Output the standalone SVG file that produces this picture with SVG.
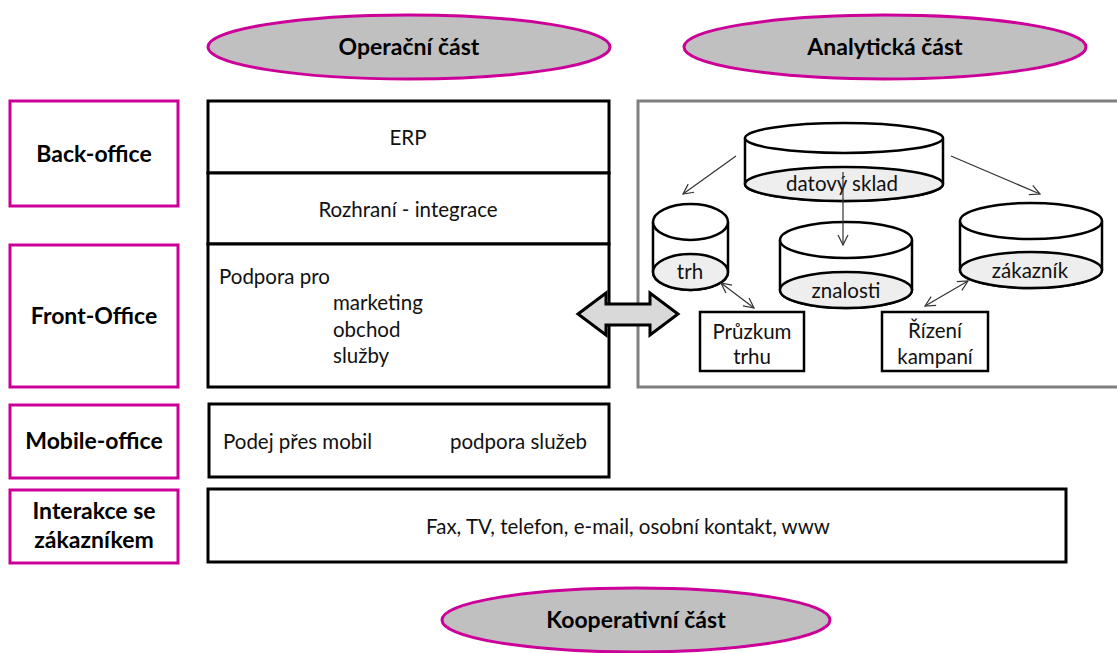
<svg xmlns="http://www.w3.org/2000/svg" width="1117" height="653" viewBox="0 0 1117 653">
  <defs>
    <style>
      .part { fill: #c0c0c0; stroke: #cc0099; stroke-width: 3; }
      .lane { fill: #fff; stroke: #cc0099; stroke-width: 3; }
      .box { fill: #fff; stroke: #000; stroke-width: 3; }
      .cyl { fill: #fff; stroke: #000; stroke-width: 2.5; }
      .cylbase { fill: #eeeeee; stroke: #000; stroke-width: 2.5; }
      .lbl { font-family: Lato, "Liberation Sans", sans-serif; font-size: 23px; font-weight: bold; fill: #000; text-anchor: middle; }
      .txt { font-family: Lato, "Liberation Sans", sans-serif; font-size: 20.5px; fill: #111; }
      .mid { text-anchor: middle; }
      .conn { stroke: #333; stroke-width: 1.2; fill: none; }
    </style>
    <marker id="head" viewBox="0 0 12 12" refX="11" refY="6" markerWidth="12" markerHeight="12" markerUnits="userSpaceOnUse" orient="auto-start-reverse">
      <path d="M1,1 L11,6 L1,11" fill="none" stroke="#333" stroke-width="1.2"/>
    </marker>
  </defs>

  <rect width="1117" height="653" fill="#fff"/>

  <!-- section headers -->
  <g id="operacni">
    <ellipse class="part" cx="409" cy="47" rx="201" ry="32"/>
    <text class="lbl" x="409" y="55">Operační část</text>
  </g>
  <g id="analyticka">
    <ellipse class="part" cx="885" cy="47" rx="201" ry="32"/>
    <text class="lbl" x="885" y="55">Analytická část</text>
  </g>
  <g id="kooperativni">
    <ellipse class="part" cx="636" cy="620" rx="194" ry="32"/>
    <text class="lbl" x="636" y="628">Kooperativní část</text>
  </g>

  <!-- row labels -->
  <g id="back-office">
    <rect class="lane" x="10" y="101" width="168" height="105"/>
    <text class="lbl" x="94" y="162">Back-office</text>
  </g>
  <g id="front-office">
    <rect class="lane" x="10" y="245" width="168" height="142"/>
    <text class="lbl" x="94" y="324">Front-Office</text>
  </g>
  <g id="mobile-office">
    <rect class="lane" x="10" y="405" width="168" height="73"/>
    <text class="lbl" x="94" y="449">Mobile-office</text>
  </g>
  <g id="interakce">
    <rect class="lane" x="10" y="490" width="168" height="73"/>
    <text class="lbl" x="94" y="519">Interakce se</text>
    <text class="lbl" x="94" y="548">zákazníkem</text>
  </g>

  <!-- operational stack -->
  <g id="erp">
    <rect class="box" x="208" y="101" width="401" height="72"/>
    <text class="txt mid" x="408" y="145">ERP</text>
  </g>
  <g id="rozhrani">
    <rect class="box" x="208" y="173" width="401" height="71"/>
    <text class="txt mid" x="408" y="217">Rozhraní - integrace</text>
  </g>
  <g id="podpora">
    <rect class="box" x="208" y="244" width="401" height="143"/>
    <text class="txt" x="219" y="284">Podpora pro</text>
    <text class="txt" x="333" y="310">marketing</text>
    <text class="txt" x="333" y="337">obchod</text>
    <text class="txt" x="333" y="363">služby</text>
  </g>
  <g id="mobil">
    <rect class="box" x="209" y="404" width="400" height="73"/>
    <text class="txt" x="223" y="449">Podej přes mobil</text>
    <text class="txt" x="450" y="449">podpora služeb</text>
  </g>
  <g id="kanaly">
    <rect class="box" x="208" y="489" width="858" height="73"/>
    <text class="txt mid" x="628" y="534">Fax, TV, telefon, e-mail, osobní kontakt, www</text>
  </g>

  <!-- analytical area -->
  <g id="analyticka-oblast">
    <rect x="638" y="101" width="490" height="286" fill="#fff" stroke="#808080" stroke-width="3"/>
  </g>

  <g id="datovy-sklad">
    <path class="cyl" d="M745,138 L745,184 A99,17 0 0 0 943,184 L943,138"/>
    <ellipse class="cylbase" cx="844" cy="184" rx="99" ry="17"/>
    <ellipse class="cyl" cx="844" cy="138" rx="99" ry="15"/>
    <text class="txt mid" x="842" y="191">datový sklad</text>
  </g>
  <g id="trh">
    <path class="cyl" d="M653,222 L653,272 A37.5,18 0 0 0 728,272 L728,222"/>
    <ellipse class="cylbase" cx="690.5" cy="272" rx="37.5" ry="18"/>
    <ellipse class="cyl" cx="690.5" cy="222" rx="37.5" ry="18"/>
    <text class="txt mid" x="690" y="279">trh</text>
  </g>
  <g id="znalosti">
    <path class="cyl" d="M780,240 L780,290 A66,18 0 0 0 912,290 L912,240"/>
    <ellipse class="cylbase" cx="846" cy="290" rx="66" ry="18"/>
    <ellipse class="cyl" cx="846" cy="240" rx="66" ry="18"/>
    <text class="txt mid" x="846" y="298">znalosti</text>
  </g>
  <g id="zakaznik">
    <path class="cyl" d="M960,221 L960,270 A71,18 0 0 0 1102,270 L1102,221"/>
    <ellipse class="cylbase" cx="1031" cy="270" rx="71" ry="18"/>
    <ellipse class="cyl" cx="1031" cy="221" rx="71" ry="18"/>
    <text class="txt mid" x="1030" y="278">zákazník</text>
  </g>
  <g id="pruzkum">
    <rect x="700" y="312" width="104" height="59" fill="#fff" stroke="#000" stroke-width="2.5"/>
    <text class="txt mid" x="752" y="339">Průzkum</text>
    <text class="txt mid" x="752" y="364">trhu</text>
  </g>
  <g id="rizeni">
    <rect x="882" y="312" width="106" height="59" fill="#fff" stroke="#000" stroke-width="2.5"/>
    <text class="txt mid" x="935" y="338">Řízení</text>
    <text class="txt mid" x="935" y="364">kampaní</text>
  </g>

  <!-- connectors -->
  <g id="connectors">
    <line class="conn" x1="736" y1="156" x2="683" y2="194" marker-end="url(#head)"/>
    <line class="conn" x1="951" y1="156" x2="1040" y2="194" marker-end="url(#head)"/>
    <line class="conn" x1="843" y1="172" x2="843" y2="245" marker-end="url(#head)"/>
    <line class="conn" x1="721" y1="283" x2="754" y2="308" marker-start="url(#head)" marker-end="url(#head)"/>
    <line class="conn" x1="968" y1="281" x2="925" y2="306" marker-start="url(#head)" marker-end="url(#head)"/>
    <path d="M578,314 L606,293 L606,304 L650,304 L650,293 L678,314 L650,335 L650,325 L606,325 L606,335 Z" fill="#d9d9d9" stroke="#000" stroke-width="3" stroke-linejoin="miter"/>
  </g>
</svg>
